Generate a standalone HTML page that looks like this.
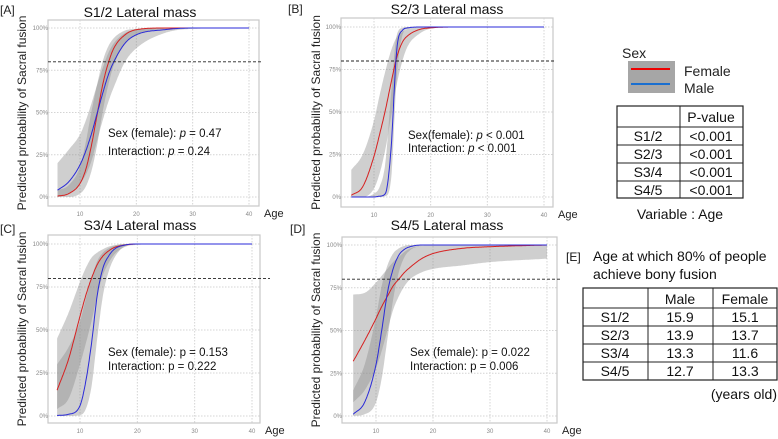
<!DOCTYPE html>
<html><head><meta charset="utf-8"><style>
body{margin:0;background:#fff;font-family:"Liberation Sans",Arial,sans-serif}
svg{display:block}
</style></head><body>
<svg id="fig" width="778" height="439" viewBox="0 0 778 439" xmlns="http://www.w3.org/2000/svg" font-family="Liberation Sans, Arial, sans-serif">
<g id="panels"></g>
<g>
  <text x="622" y="58" font-size="14" fill="#222">Sex</text>
  <rect x="628" y="61" width="47" height="32" fill="#a6a6a6"/>
  <line x1="631" y1="69" x2="670" y2="69" stroke="#e00" stroke-width="2"/>
  <line x1="631" y1="84" x2="670" y2="84" stroke="#1a6fd0" stroke-width="2"/>
  <text x="684" y="76" font-size="14" fill="#222">Female</text>
  <text x="684" y="93" font-size="14" fill="#222">Male</text>
</g>
<g font-size="14" fill="#111" text-anchor="middle">
  <rect x="617" y="106" width="126" height="92" fill="none" stroke="#222" stroke-width="1.2"/>
  <line x1="680" y1="106" x2="680" y2="198" stroke="#222"/>
  <line x1="617" y1="127" x2="743" y2="127" stroke="#222"/>
  <line x1="617" y1="145" x2="743" y2="145" stroke="#222"/>
  <line x1="617" y1="163" x2="743" y2="163" stroke="#222"/>
  <line x1="617" y1="181" x2="743" y2="181" stroke="#222"/>
  <text x="711" y="122">P-value</text>
  <text x="648" y="141">S1/2</text><text x="711" y="141">&lt;0.001</text>
  <text x="648" y="159">S2/3</text><text x="711" y="159">&lt;0.001</text>
  <text x="648" y="177">S3/4</text><text x="711" y="177">&lt;0.001</text>
  <text x="648" y="195">S4/5</text><text x="711" y="195">&lt;0.001</text>
  <text x="680" y="219">Variable : Age</text>
</g>
<g font-size="14" fill="#111">
  <text x="566" y="261" font-size="12">[E]</text>
  <text x="593" y="261">Age at which 80% of people</text>
  <text x="593" y="279">achieve bony fusion</text>
  <g text-anchor="middle">
  <rect x="583" y="288" width="194" height="92" fill="none" stroke="#222" stroke-width="1.2"/>
  <line x1="648" y1="288" x2="648" y2="380" stroke="#222"/>
  <line x1="713" y1="288" x2="713" y2="380" stroke="#222"/>
  <line x1="583" y1="308" x2="777" y2="308" stroke="#222"/>
  <line x1="583" y1="326" x2="777" y2="326" stroke="#222"/>
  <line x1="583" y1="344" x2="777" y2="344" stroke="#222"/>
  <line x1="583" y1="362" x2="777" y2="362" stroke="#222"/>
  <text x="680" y="304">Male</text><text x="745" y="304">Female</text>
  <text x="615" y="322">S1/2</text><text x="680" y="322">15.9</text><text x="745" y="322">15.1</text>
  <text x="615" y="340">S2/3</text><text x="680" y="340">13.9</text><text x="745" y="340">13.7</text>
  <text x="615" y="358">S3/4</text><text x="680" y="358">13.3</text><text x="745" y="358">11.6</text>
  <text x="615" y="376">S4/5</text><text x="680" y="376">12.7</text><text x="745" y="376">13.3</text>
  </g>
  <text x="777" y="399" text-anchor="end">(years old)</text>
</g>
</svg>
<script>
const ages = [6,8,10,11,12,13,14,15,16,18,20,25,30,40];
const xTicks = [10,20,30,40];
const yTicks = [0,25,50,75,100];
const yTickLabels = ["0%","25%","50%","75%","100%"];
const threshold = 80;
// Panel A S1/2
const femaleA = [0.5,2,8,16,30,48,66,79,88,96,99,100,100,100];
const maleA = [4,9,19,27,37,49,61,72,80,91,96,99,100,100];
const femaleLoA = [0,0,2,6,15,30,50,66,78,91,96,99.5,100,100];
const femaleHiA = [4,7,18,32,50,66,80,89,94,98.5,99.5,100,100,100];
const maleLoA = [0,2,8,13,21,33,45,56,65,80,88,97,99.5,100];
const maleHiA = [20,28,37,45,55,66,76,85,91,97,99,100,100,100];
// Panel B S2/3
const femaleB = [1,6,24,37,51,67,82,91,95,98.5,99.5,100,100,100];
const maleB = [0,0,0,0.5,2,28,86,98,99.5,100,100,100,100,100];
const femaleLoB = [0,0,5,14,28,47,66,80,89,96,99,100,100,100];
const femaleHiB = [16,25,45,60,74,86,94,97,99,99.8,100,100,100,100];
const maleLoB = [0,0,0,0,0.5,10,70,95,99,100,100,100,100,100];
const maleHiB = [0,0,2,6,20,60,95,99.5,100,100,100,100,100,100];
// Panel C S3/4
const femaleC = [15,33,58,70,80,88,93,96,98,99.5,100,100,100,100];
const maleC = [0.3,1,6,20,42,70,86,93,97,99.5,100,100,100,100];
const femaleLoC = [4,10,30,42,55,70,82,89,94,98.5,99.5,100,100,100];
const femaleHiC = [45,60,78,86,92,95,97,98.5,99.3,100,100,100,100,100];
const maleLoC = [0,0,0.5,4,17,45,70,84,92,99,100,100,100,100];
const maleHiC = [30,40,55,68,80,90,95,97.5,99,100,100,100,100,100];
// Panel D S4/5
const femaleD = [32,44,57,64,70,76,80,84,87,92,95,98,99,100];
const maleD = [1,8,30,50,72,86,94,97.5,99,100,100,100,100,100];
const femaleLoD = [8,15,28,38,50,62,70,76,80,84,86,88,90,92];
const femaleHiD = [71,72,78,82,86,90,93,96,98,99.5,100,100,100,100];
const maleLoD = [0,1,8,22,45,68,84,93,97,99.5,100,100,100,100];
const maleHiD = [15,30,58,76,88,95,98,99.5,100,100,100,100,100,100];

const panels = [
 {id:"a",letter:"[A]",title:"S1/2 Lateral mass",sexTxt:["Sex (female): ","p"," = 0.47"],intTxt:["Interaction: ","p"," = 0.24"],
  L:48,R:259,T:20,B:206,x10:80,x40:249,y0:197,y100:28,lx:0,ly:14,tx:140,ty:17,ax:108,ay:[137,155],ytx:26,
  f:femaleA,m:maleA,fl:femaleLoA,fh:femaleHiA,ml:maleLoA,mh:maleHiA,dashR:262},
 {id:"b",letter:"[B]",title:"S2/3 Lateral mass",sexTxt:["Sex(female): ","p"," < 0.001"],intTxt:["Interaction: ","p"," < 0.001"],
  L:341,R:553,T:18,B:207,x10:374,x40:544,y0:197,y100:27,lx:288,ly:13,tx:447,ty:14,ax:408,ay:[139,152],ytx:320,
  f:femaleB,m:maleB,fl:femaleLoB,fh:femaleHiB,ml:maleLoB,mh:maleHiB,dashR:556},
 {id:"c",letter:"[C]",title:"S3/4 Lateral mass",sexTxt:["Sex (female): p = 0.153"],intTxt:["Interaction: p = 0.222"],
  L:48,R:260,T:235,B:423,x10:80,x40:252,y0:416,y100:244,lx:0,ly:233,tx:140,ty:230,ax:108,ay:[356,370],ytx:26,
  f:femaleC,m:maleC,fl:femaleLoC,fh:femaleHiC,ml:maleLoC,mh:maleHiC,dashR:270},
 {id:"d",letter:"[D]",title:"S4/5 Lateral mass",sexTxt:["Sex (female): p = 0.022"],intTxt:["Interaction: p = 0.006"],
  L:342,R:557,T:237,B:423,x10:376,x40:547,y0:416,y100:245,lx:290,ly:233,tx:447,ty:230,ax:410,ay:[356,370],ytx:320,
  f:femaleD,m:maleD,fl:femaleLoD,fh:femaleHiD,ml:maleLoD,mh:maleHiD,dashR:560}
];
const NS="http://www.w3.org/2000/svg";
function mk(tag,attrs,parent){const e=document.createElementNS(NS,tag);for(const k in attrs)e.setAttribute(k,attrs[k]);parent.appendChild(e);return e;}
function interp(xs,ys){
 const n=xs.length,d=[],mm=[];
 for(let i=0;i<n-1;i++)d.push((ys[i+1]-ys[i])/(xs[i+1]-xs[i]));
 mm[0]=d[0];mm[n-1]=d[n-2];
 for(let i=1;i<n-1;i++){mm[i]=(d[i-1]*d[i]<=0)?0:(d[i-1]+d[i])/2;}
 for(let i=0;i<n-1;i++){if(d[i]===0){mm[i]=0;mm[i+1]=0;continue;}const a=mm[i]/d[i],b=mm[i+1]/d[i],s=a*a+b*b;if(s>9){const t=3/Math.sqrt(s);mm[i]=t*a*d[i];mm[i+1]=t*b*d[i];}}
 return function(x){let i=0;while(i<n-2&&x>xs[i+1])i++;const h=xs[i+1]-xs[i],t=(x-xs[i])/h,t2=t*t,t3=t2*t;
  return (2*t3-3*t2+1)*ys[i]+(t3-2*t2+t)*h*mm[i]+(-2*t3+3*t2)*ys[i+1]+(t3-t2)*h*mm[i+1];};
}
const root=document.getElementById('panels');
panels.forEach(p=>{
 const g=mk('g',{},root);
 
 
 const xs=a=>p.x10+(a-10)*(p.x40-p.x10)/30;
 const ys=v=>p.y0-v*(p.y0-p.y100)/100;
 const bg=mk('rect',{x:p.L,y:p.T,width:p.R-p.L,height:p.B-p.T,fill:'#fff',stroke:'#c8c8c8','stroke-width':1.2},g);
 
 
 xTicks.forEach(t=>{
  const l=mk('line',{x1:xs(t),x2:xs(t),y1:p.T,y2:p.B,stroke:'#d4d4d4','stroke-dasharray':'1.5,1.5'},g);
  
  
  const tx=mk('text',{x:xs(t),y:p.B+10,'font-size':6,fill:'#888','text-anchor':'middle'},g);tx.textContent=t;
  
  
 });
 yTicks.forEach((t,i)=>{
  const l=mk('line',{x1:p.L,x2:p.R,y1:ys(t),y2:ys(t),stroke:'#d4d4d4','stroke-dasharray':'1.5,1.5'},g);
  
  
  const tx=mk('text',{x:p.L+0,y:ys(t)+2,'font-size':6,fill:'#888','text-anchor':'end'},g);tx.textContent=yTickLabels[i];
  
  
 });
 const samples=[];for(let a=6;a<=40.001;a+=0.1)samples.push(a);
 function band(lo,hi,name){
  const fl=interp(ages,lo),fh=interp(ages,hi);
  let d='M'+samples.map(a=>xs(a).toFixed(1)+','+ys(Math.max(0,Math.min(100,fh(a)))).toFixed(1)).join('L');
  d+='L'+samples.slice().reverse().map(a=>xs(a).toFixed(1)+','+ys(Math.max(0,Math.min(100,fl(a)))).toFixed(1)).join('L')+'Z';
  const e=mk('path',{d:d,fill:'#8c8c8c','fill-opacity':0.42},g);
  
  
 }
 band(p.fl,p.fh,'female-ci-band');
 band(p.ml,p.mh,'male-ci-band');
 function line(vals,color,name){
  const f=interp(ages,vals);
  const d='M'+samples.map(a=>xs(a).toFixed(1)+','+ys(Math.max(0,Math.min(100,f(a)))).toFixed(1)).join('L');
  const e=mk('path',{d:d,fill:'none',stroke:color,'stroke-width':1},g);
  
  
 }
 line(p.f,'#d62020','female-line');
 line(p.m,'#2a2ad8','male-line');
 const dl=mk('line',{x1:p.L,x2:p.dashR,y1:ys(threshold),y2:ys(threshold),stroke:'#222','stroke-dasharray':'3,2','stroke-width':0.9},g);
 
 
 const lt=mk('text',{x:p.lx,y:p.ly,'font-size':12,fill:'#222'},g);lt.textContent=p.letter;
 
 
 const tt=mk('text',{x:p.tx,y:p.ty,'font-size':14,fill:'#111','text-anchor':'middle'},g);tt.textContent=p.title;
 
 
 const yt=mk('text',{x:0,y:0,'font-size':12,fill:'#222','text-anchor':'middle',transform:`translate(${p.ytx},${(p.T+p.B)/2}) rotate(-90)`},g);yt.textContent='Predicted probability of Sacral fusion';
 
 
 const at=mk('text',{x:p.R+5,y:p.B+11,'font-size':11,fill:'#222'},g);at.textContent='Age';
 
 
 [p.sexTxt,p.intTxt].forEach((parts,k)=>{
  const t=mk('text',{x:p.ax,y:p.ay[k],'font-size':11.5,fill:'#111'},g);
  
  
  parts.forEach(s=>{const sp=mk('tspan',{},t);if(s==='p')sp.setAttribute('font-style','italic');sp.textContent=s;});
 });
});
</script>
</body></html>
